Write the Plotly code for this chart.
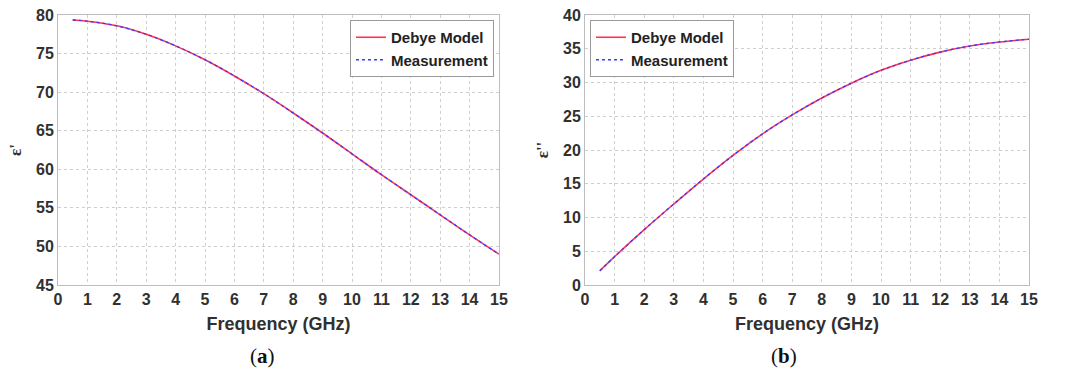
import plotly.graph_objects as go

freq = [0.5, 1, 2, 3, 4, 5, 6, 7, 8, 9, 10, 11, 12, 13, 14, 15]
eps_real_model = [79.35, 79.2, 78.6, 77.5, 76.0, 74.2, 72.1, 69.8, 67.3, 64.7, 62.0, 59.3, 56.7, 54.1, 51.5, 49.0]
eps_real_meas = [79.35, 79.2, 78.6, 77.5, 76.0, 74.2, 72.1, 69.8, 67.3, 64.7, 62.0, 59.3, 56.7, 54.1, 51.5, 49.0]
eps_imag_model = [2.1, 4.2, 8.2, 12.0, 15.7, 19.2, 22.4, 25.2, 27.7, 29.9, 31.8, 33.3, 34.5, 35.4, 36.0, 36.4]
eps_imag_meas = [2.1, 4.2, 8.2, 12.0, 15.7, 19.2, 22.4, 25.2, 27.7, 29.9, 31.8, 33.3, 34.5, 35.4, 36.0, 36.4]
x_ticks = list(range(0, 16))

W, H = 1067, 378


def px(x):
    return x / W


def py(y):
    return 1 - y / H


RED = "#ff3355"
BLUE = "#3a3aff"
fig = go.Figure()
fig.add_trace(go.Scatter(x=freq, y=eps_real_model, mode="lines", name="<b>Debye Model</b>",
                         line=dict(color=RED, width=1.6, shape="spline"), xaxis="x", yaxis="y", legend="legend"))
fig.add_trace(go.Scatter(x=freq, y=eps_real_meas, mode="lines", name="<b>Measurement</b>",
                         line=dict(color=BLUE, width=1.3, dash="3px,3px", shape="spline"), xaxis="x", yaxis="y", legend="legend"))
fig.add_trace(go.Scatter(x=freq, y=eps_imag_model, mode="lines", name="<b>Debye Model</b>",
                         line=dict(color=RED, width=1.6, shape="spline"), xaxis="x2", yaxis="y2", legend="legend2"))
fig.add_trace(go.Scatter(x=freq, y=eps_imag_meas, mode="lines", name="<b>Measurement</b>",
                         line=dict(color=BLUE, width=1.3, dash="3px,3px", shape="spline"), xaxis="x2", yaxis="y2", legend="legend2"))

TXT = "#303030"
tickfont = dict(family="Liberation Sans, Arial", size=16, color=TXT, weight="bold")
titlefont = dict(family="Liberation Sans, Arial", size=18, color=TXT, weight="bold")
ytitlefont = dict(family="Liberation Serif", size=17, color=TXT, weight="bold")
GRID = "#cfcfcf"
common_x = dict(range=[0, 15], tickvals=x_ticks, showgrid=True, gridcolor=GRID, griddash="3px,3px",
                gridwidth=1, showline=True, linecolor="#bdbdbd", mirror=True, ticks="", zeroline=False,
                tickfont=tickfont, automargin=False, ticklabeloverflow="allow",
                title=dict(text="Frequency (GHz)", font=titlefont, standoff=10))
common_y = dict(showgrid=True, gridcolor=GRID, griddash="3px,3px", gridwidth=1, showline=True,
                linecolor="#bdbdbd", mirror=True, ticks="", zeroline=False, tickfont=tickfont,
                automargin=False, ticklabeloverflow="allow")

legfont = dict(family="Liberation Sans, Arial", size=15, color="#222222", weight="bold")
fig.update_layout(
    width=W, height=H, margin=dict(l=0, r=0, t=0, b=0),
    paper_bgcolor="white", plot_bgcolor="white",
    xaxis=dict(domain=[px(58), px(499)], anchor="y", **common_x),
    yaxis=dict(domain=[py(285), py(15)], anchor="x", range=[45, 80], dtick=5,
               title=dict(text="ε'", font=ytitlefont, standoff=10), **common_y),
    xaxis2=dict(domain=[px(585), px(1029)], anchor="y2", **common_x),
    yaxis2=dict(domain=[py(285), py(15)], anchor="x2", range=[0, 40], dtick=5,
                title=dict(text="ε''", font=ytitlefont, standoff=10), **common_y),
    legend=dict(x=px(494), y=py(20), xanchor="right", yanchor="top", bgcolor="white",
                bordercolor="#999999", borderwidth=1, tracegroupgap=0, font=legfont, itemwidth=30),
    legend2=dict(x=px(590), y=py(20), xanchor="left", yanchor="top", bgcolor="white",
                 bordercolor="#999999", borderwidth=1, tracegroupgap=0, font=legfont, itemwidth=30),
    showlegend=True,
    annotations=[
        dict(text="(<b>a</b>)", x=px(262), y=py(356), xref="paper", yref="paper", showarrow=False,
             xanchor="center", yanchor="middle",
             font=dict(family="Liberation Serif", size=21, color="#111111")),
        dict(text="(<b>b</b>)", x=px(784), y=py(356), xref="paper", yref="paper", showarrow=False,
             xanchor="center", yanchor="middle",
             font=dict(family="Liberation Serif", size=21, color="#111111")),
    ],
)

fig.write_html("out.html", config={"displayModeBar": False},
               post_script="document.body.style.margin='0';")
